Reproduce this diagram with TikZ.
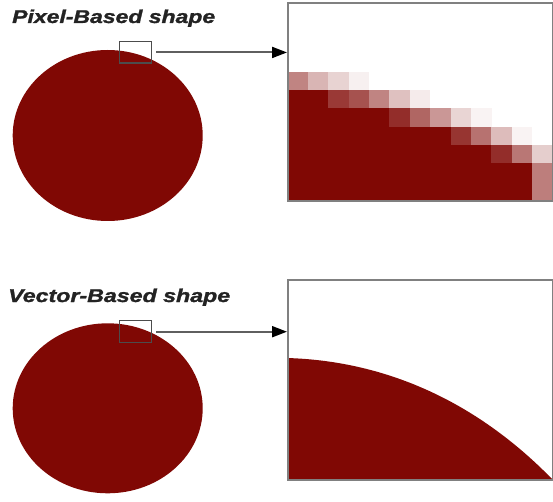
\documentclass[tikz,border=0pt]{standalone}
\usepackage{fontspec}
\setmainfont{Liberation Sans}
\newfontfamily\titlefont{Liberation Sans}[BoldItalicFeatures={FakeBold=1.3}]
\usetikzlibrary{arrows.meta}
\definecolor{dkred}{RGB}{128,8,4}
\definecolor{boxgray}{RGB}{128,128,128}
\definecolor{txtgray}{RGB}{35,35,35}
\definecolor{linegray}{RGB}{95,95,95}
\tikzset{
  title/.style={anchor=base west, inner sep=0pt, text=txtgray, font=\titlefont\fontsize{18.5}{18.5}\selectfont\bfseries\itshape},
  zoombox/.style={draw=linegray!80!black, line width=1.4pt, inner sep=0pt},
  bigbox/.style={draw=boxgray, line width=1.7pt, inner sep=0pt},
  redfill/.style={fill=dkred},
  pointer/.style={draw=linegray, line width=2pt, shorten <=4pt, -{Triangle[length=15pt,width=11pt,color=black]}},
}
\begin{document}
\begin{tikzpicture}[x=1pt,y=-1pt]
\useasboundingbox (0,0) rectangle (553,502);
% ---------- Pixel-based ----------
\node[title] (t1) at (12,23) {\resizebox{203pt}{\height}{Pixel-Based shape}};
\fill[redfill] (107.7,135.5) ellipse [x radius=95, y radius=85.5];
% pixel grid
\def\xo{287.3}\def\cw{20.4}\def\yo{71.7}\def\rh{18.3}
\foreach \c/\r/\o in {0/0/50,1/0/30,2/0/18,3/0/6,
  0/1/100,1/1/100,2/1/80,3/1/70,4/1/50,5/1/25,6/1/8,
  0/2/100,1/2/100,2/2/100,3/2/100,4/2/100,5/2/85,6/2/62,7/2/42,8/2/17,9/2/5,
  0/3/100,1/3/100,2/3/100,3/3/100,4/3/100,5/3/100,6/3/100,7/3/100,8/3/82,9/3/57,10/3/27,11/3/5,
  0/4/100,1/4/100,2/4/100,3/4/100,4/4/100,5/4/100,6/4/100,7/4/100,8/4/100,9/4/100,10/4/85,11/4/55,12/4/20}
  \fill[dkred!\o!white] ({\xo+\c*\cw},{\yo+\r*\rh}) rectangle ({\xo+(\c+1)*\cw+0.3},{\yo+(\r+1)*\rh+0.3});
\foreach \c in {0,...,11}
  \fill[dkred] ({\xo+\c*\cw},{\yo+5*\rh}) rectangle ({\xo+(\c+1)*\cw+0.3},200);
\fill[dkred!52!white] ({\xo+12*\cw},{\yo+5*\rh}) rectangle (552,200);
\node[bigbox, minimum width=265pt, minimum height=198pt, anchor=north west] (big1) at (287,2) {};
\node[zoombox, minimum width=32pt, minimum height=21.5pt, anchor=north west] (z1) at (119,41) {};
\draw[pointer] (z1.east) -- (big1.west |- z1.east);
% ---------- Vector-based ----------
\node[title] (t2) at (8,302) {\resizebox{222pt}{\height}{Vector-Based shape}};
\fill[redfill] (107.7,408.3) ellipse [x radius=95, y radius=85];
\fill[redfill] (287,358) .. controls (390,361) and (480,405) .. (552,479) -- (287,479) -- cycle;
\node[bigbox, minimum width=265pt, minimum height=200pt, anchor=north west] (big2) at (287,279) {};
\node[zoombox, minimum width=32pt, minimum height=22pt, anchor=north west] (z2) at (119,320) {};
\draw[pointer] (z2.east) -- (big2.west |- z2.east);
\end{tikzpicture}
\end{document}
